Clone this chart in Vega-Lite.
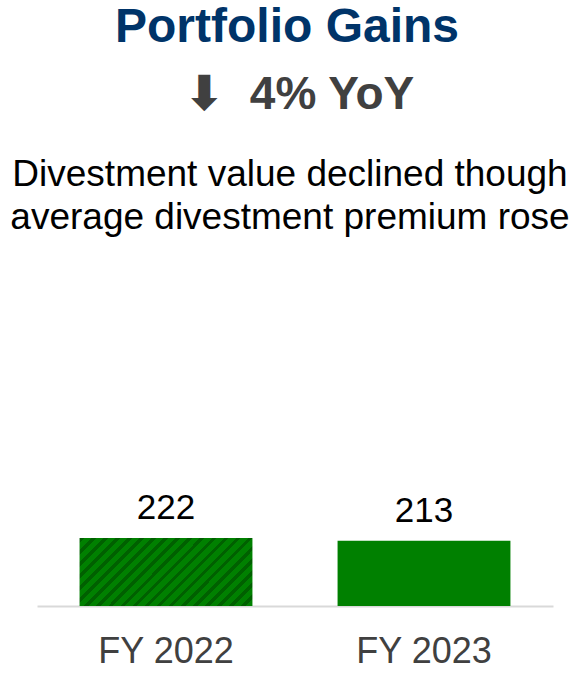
{
  "$schema": "https://vega.github.io/schema/vega-lite/v6.json",
  "padding": {"left": 10, "top": 4, "right": 0, "bottom": 5},
  "background": "white",
  "config": {"font": "Liberation Sans", "view": {"stroke": null}},
  "title": {
    "text": "Portfolio Gains",
    "subtitle": "\u2060\u00a0\u00a0⬇\u00a0\u00a04% YoY",
    "anchor": "middle",
    "font": "Liberation Sans",
    "fontSize": 48,
    "fontWeight": "bold",
    "color": "#003469",
    "subtitleFont": "Liberation Sans",
    "subtitleFontSize": 46,
    "subtitleFontWeight": "bold",
    "subtitleColor": "#404040",
    "subtitlePadding": 21,
    "dx": -3,
    "offset": 38
  },
  "vconcat": [
    {
      "width": 516,
      "height": 306,
      "title": {
        "text": ["Divestment value declined though", "average divestment premium rose"],
        "font": "Liberation Sans",
        "fontSize": 37,
        "fontWeight": "normal",
        "color": "#000000",
        "lineHeight": 43,
        "anchor": "middle",
        "dx": -5,
        "offset": 63
      },
      "data": {"values": [{"year": "FY 2022", "value": 222}, {"year": "FY 2023", "value": 213}]},
      "encoding": {
        "x": {
          "field": "year",
          "type": "nominal",
          "sort": null,
          "scale": {"paddingInner": 0.33, "paddingOuter": 0.165},
          "axis": {
            "title": null,
            "labelAngle": 0,
            "labelFont": "Liberation Sans",
            "labelFontSize": 36,
            "labelColor": "#404040",
            "labelPadding": 28,
            "ticks": false,
            "domainColor": "#d9d9d9",
            "domainWidth": 2
          }
        },
        "y": {"field": "value", "type": "quantitative", "scale": {"domain": [0, 1000]}, "axis": null}
      },
      "layer": [
        {
          "mark": {"type": "bar"},
          "encoding": {
            "fill": {
              "condition": {
                "test": "datum.year === 'FY 2022'",
                "value": {
                  "gradient": "linear",
                  "x1": 0, "y1": 0, "x2": 1.2066, "y2": 0.4736,
                  "stops": [
                    {"offset": 0.0, "color": "#006000"}, {"offset": 0.02, "color": "#006000"}, {"offset": 0.02, "color": "#008000"}, {"offset": 0.05, "color": "#008000"},
                    {"offset": 0.05, "color": "#006000"}, {"offset": 0.07, "color": "#006000"}, {"offset": 0.07, "color": "#008000"}, {"offset": 0.1, "color": "#008000"},
                    {"offset": 0.1, "color": "#006000"}, {"offset": 0.12, "color": "#006000"}, {"offset": 0.12, "color": "#008000"}, {"offset": 0.15, "color": "#008000"},
                    {"offset": 0.15, "color": "#006000"}, {"offset": 0.17, "color": "#006000"}, {"offset": 0.17, "color": "#008000"}, {"offset": 0.2, "color": "#008000"},
                    {"offset": 0.2, "color": "#006000"}, {"offset": 0.22, "color": "#006000"}, {"offset": 0.22, "color": "#008000"}, {"offset": 0.25, "color": "#008000"},
                    {"offset": 0.25, "color": "#006000"}, {"offset": 0.27, "color": "#006000"}, {"offset": 0.27, "color": "#008000"}, {"offset": 0.3, "color": "#008000"},
                    {"offset": 0.3, "color": "#006000"}, {"offset": 0.32, "color": "#006000"}, {"offset": 0.32, "color": "#008000"}, {"offset": 0.35, "color": "#008000"},
                    {"offset": 0.35, "color": "#006000"}, {"offset": 0.37, "color": "#006000"}, {"offset": 0.37, "color": "#008000"}, {"offset": 0.4, "color": "#008000"},
                    {"offset": 0.4, "color": "#006000"}, {"offset": 0.42, "color": "#006000"}, {"offset": 0.42, "color": "#008000"}, {"offset": 0.45, "color": "#008000"},
                    {"offset": 0.45, "color": "#006000"}, {"offset": 0.47, "color": "#006000"}, {"offset": 0.47, "color": "#008000"}, {"offset": 0.5, "color": "#008000"},
                    {"offset": 0.5, "color": "#006000"}, {"offset": 0.52, "color": "#006000"}, {"offset": 0.52, "color": "#008000"}, {"offset": 0.55, "color": "#008000"},
                    {"offset": 0.55, "color": "#006000"}, {"offset": 0.57, "color": "#006000"}, {"offset": 0.57, "color": "#008000"}, {"offset": 0.6, "color": "#008000"},
                    {"offset": 0.6, "color": "#006000"}, {"offset": 0.62, "color": "#006000"}, {"offset": 0.62, "color": "#008000"}, {"offset": 0.65, "color": "#008000"},
                    {"offset": 0.65, "color": "#006000"}, {"offset": 0.67, "color": "#006000"}, {"offset": 0.67, "color": "#008000"}, {"offset": 0.7, "color": "#008000"},
                    {"offset": 0.7, "color": "#006000"}, {"offset": 0.72, "color": "#006000"}, {"offset": 0.72, "color": "#008000"}, {"offset": 0.75, "color": "#008000"},
                    {"offset": 0.75, "color": "#006000"}, {"offset": 0.77, "color": "#006000"}, {"offset": 0.77, "color": "#008000"}, {"offset": 0.8, "color": "#008000"},
                    {"offset": 0.8, "color": "#006000"}, {"offset": 0.82, "color": "#006000"}, {"offset": 0.82, "color": "#008000"}, {"offset": 0.85, "color": "#008000"},
                    {"offset": 0.85, "color": "#006000"}, {"offset": 0.87, "color": "#006000"}, {"offset": 0.87, "color": "#008000"}, {"offset": 0.9, "color": "#008000"},
                    {"offset": 0.9, "color": "#006000"}, {"offset": 0.92, "color": "#006000"}, {"offset": 0.92, "color": "#008000"}, {"offset": 0.95, "color": "#008000"},
                    {"offset": 0.95, "color": "#006000"}, {"offset": 0.97, "color": "#006000"}, {"offset": 0.97, "color": "#008000"}, {"offset": 1.0, "color": "#008000"}
                  ]
                }
              },
              "value": "#008000"
            }
          }
        },
        {
          "mark": {"type": "text", "dy": -19, "baseline": "alphabetic", "fontSize": 35, "color": "#000000", "font": "Liberation Sans"},
          "encoding": {"text": {"field": "value", "type": "quantitative"}}
        }
      ]
    }
  ]
}
